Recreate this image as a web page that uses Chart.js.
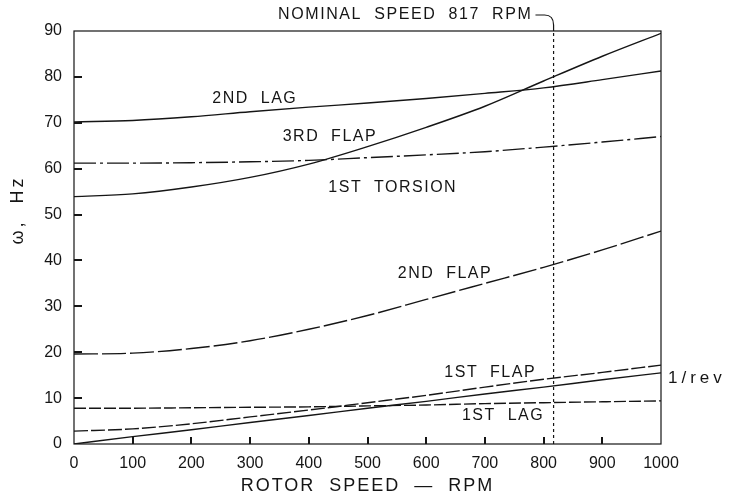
<!DOCTYPE html>
<html lang="en">
<head>
<meta charset="UTF-8">
<title>Blade frequencies vs rotor speed</title>
<script src="https://cdn.jsdelivr.net/npm/chart.js@4.4.0/dist/chart.umd.min.js"></script>
<style>
    html, body { margin: 0; padding: 0; background: #fff; }
    #wrap { width: 740px; height: 503px; }
</style>
</head>
<body>
<div id="wrap"><canvas id="fanChart" width="740" height="503"></canvas></div>
<script>
// rotor speed, RPM
const rpm = [0, 100, 200, 300, 400, 500, 600, 700, 800, 900, 1000];

// mode frequencies in Hz
const lag2     = [70.2, 70.5, 71.3, 72.4, 73.4, 74.3, 75.3, 76.4, 77.6, 79.4, 81.3];
const flap3    = [53.9, 54.5, 56.0, 58.1, 61.0, 64.8, 69.0, 73.6, 79.1, 84.5, 89.5];
const torsion1 = [61.2, 61.2, 61.3, 61.5, 61.8, 62.4, 63.0, 63.7, 64.7, 65.8, 67.0];
const flap2    = [19.6, 19.8, 20.8, 22.5, 25.0, 28.0, 31.5, 35.0, 38.5, 42.3, 46.4];
const flap1    = [2.8, 3.3, 4.4, 5.9, 7.4, 9.0, 10.6, 12.4, 14.1, 15.6, 17.2];
const oneRev   = [0, 1.6, 3.1, 4.7, 6.2, 7.8, 9.3, 10.9, 12.4, 14.0, 15.5];
const lag1     = [7.8, 7.8, 7.9, 8.0, 8.1, 8.3, 8.5, 8.8, 9.0, 9.2, 9.4];

const nominalRpm = 817;

const xTicks = [0, 100, 200, 300, 400, 500, 600, 700, 800, 900, 1000];
const yTicks = [0, 10, 20, 30, 40, 50, 60, 70, 80, 90];

const INK = '#151515';
const FONT = '"Liberation Sans", Arial, sans-serif';

function pts(ys) {
    return rpm.map((r, i) => ({ x: r, y: ys[i] }));
}

function curve(label, ys, dash) {
    return {
        label: label,
        data: pts(ys),
        borderColor: INK,
        borderWidth: 1.4,
        borderDash: dash || [],
        pointRadius: 0,
        cubicInterpolationMode: 'monotone',
        fill: false
    };
}

// curve labels: text + anchor in data units
const curveLabels = [
    { text: '2ND  LAG',     x: 308, y: 75.2 },
    { text: '3RD  FLAP',    x: 436, y: 66.9 },
    { text: '1ST  TORSION', x: 543, y: 55.9 },
    { text: '2ND  FLAP',    x: 632, y: 37.1 },
    { text: '1ST  FLAP',    x: 709, y: 15.5 },
    { text: '1ST  LAG',     x: 731, y: 6.1 }
];

const decor = {
    id: 'decor',
    afterDatasetsDraw(chart) {
        const { ctx, chartArea: a, scales: { x, y } } = chart;
        ctx.save();
        ctx.strokeStyle = INK;
        ctx.fillStyle = INK;
        ctx.lineWidth = 1.2;
        ctx.setLineDash([]);

        // frame
        ctx.strokeRect(a.left, a.top, a.right - a.left, a.bottom - a.top);

        // inward ticks
        for (let i = 1; i < xTicks.length - 1; i++) {
            const px = Math.round(x.getPixelForValue(xTicks[i]));
            ctx.fillRect(px - 1, a.bottom - 7, 2, 7);
        }
        for (let i = 1; i < yTicks.length - 1; i++) {
            const py = Math.round(y.getPixelForValue(yTicks[i]));
            ctx.fillRect(a.left, py - 1, 8, 2);
        }

        // curve labels
        ctx.font = '16px ' + FONT;
        ctx.letterSpacing = '1.5px';
        ctx.textBaseline = 'middle';
        ctx.textAlign = 'center';
        curveLabels.forEach(l => {
            ctx.fillText(l.text, x.getPixelForValue(l.x), y.getPixelForValue(l.y));
        });

        // 1/rev tag right of the frame
        ctx.font = '17px ' + FONT;
        ctx.letterSpacing = '4px';
        ctx.textAlign = 'left';
        ctx.fillText('1/rev', a.right + 7, y.getPixelForValue(oneRev[oneRev.length - 1]) + 5);

        // nominal speed callout
        const nx = x.getPixelForValue(nominalRpm);
        ctx.font = '16px ' + FONT;
        ctx.letterSpacing = '1.6px';
        const label = 'NOMINAL  SPEED  817  RPM';
        const tx = 278, ty = 15;
        ctx.fillText(label, tx, ty);
        const tw = ctx.measureText(label).width;
        ctx.beginPath();
        ctx.moveTo(tx + tw + 3, ty);
        ctx.lineTo(nx - 9, ty);
        ctx.quadraticCurveTo(nx, ty, nx, ty + 10);
        ctx.lineTo(nx, a.top);
        ctx.stroke();

        // axis titles
        ctx.font = '18px ' + FONT;
        ctx.letterSpacing = '2px';
        ctx.textAlign = 'center';
        ctx.fillText('ROTOR  SPEED  —  RPM', (a.left + a.right) / 2, 486);

        ctx.save();
        ctx.translate(18, 210);
        ctx.rotate(-Math.PI / 2);
        ctx.letterSpacing = '3px';
        ctx.fillText('ω,  Hz', 0, 0);
        ctx.restore();

        ctx.restore();
    }
};

new Chart(document.getElementById('fanChart'), {
    type: 'line',
    data: {
        datasets: [
            curve('2nd lag', lag2),
            curve('3rd flap', flap3),
            curve('1st torsion', torsion1, [22, 4, 3, 4]),
            curve('2nd flap', flap2, [24, 4]),
            curve('1st flap', flap1, [14, 3]),
            curve('1/rev', oneRev),
            curve('1st lag', lag1, [12, 3]),
            {
                label: 'nominal speed',
                data: [{ x: nominalRpm, y: 0 }, { x: nominalRpm, y: 90 }],
                borderColor: INK,
                borderWidth: 1.2,
                borderDash: [3, 3],
                pointRadius: 0
            }
        ]
    },
    options: {
        responsive: false,
        animation: false,
        layout: { padding: { left: 0, top: 31, right: 79, bottom: 0 } },
        plugins: {
            legend: { display: false },
            tooltip: { enabled: false }
        },
        scales: {
            x: {
                type: 'linear',
                min: 0,
                max: 1000,
                afterFit: s => { s.height = 59; },
                afterBuildTicks: s => { s.ticks = xTicks.map(v => ({ value: v })); },
                grid: { display: false, drawTicks: false },
                border: { display: false },
                ticks: {
                    color: INK,
                    padding: 10,
                    maxRotation: 0,
                    callback: v => String(v),
                    font: { family: FONT, size: 16 }
                }
            },
            y: {
                type: 'linear',
                min: 0,
                max: 90,
                afterFit: s => { s.width = 74; },
                afterBuildTicks: s => { s.ticks = yTicks.map(v => ({ value: v })); },
                grid: { display: false, drawTicks: false },
                border: { display: false },
                ticks: {
                    color: INK,
                    padding: 12,
                    callback: v => String(v),
                    font: { family: FONT, size: 16 }
                }
            }
        }
    },
    plugins: [decor]
});
</script>
</body>
</html>
